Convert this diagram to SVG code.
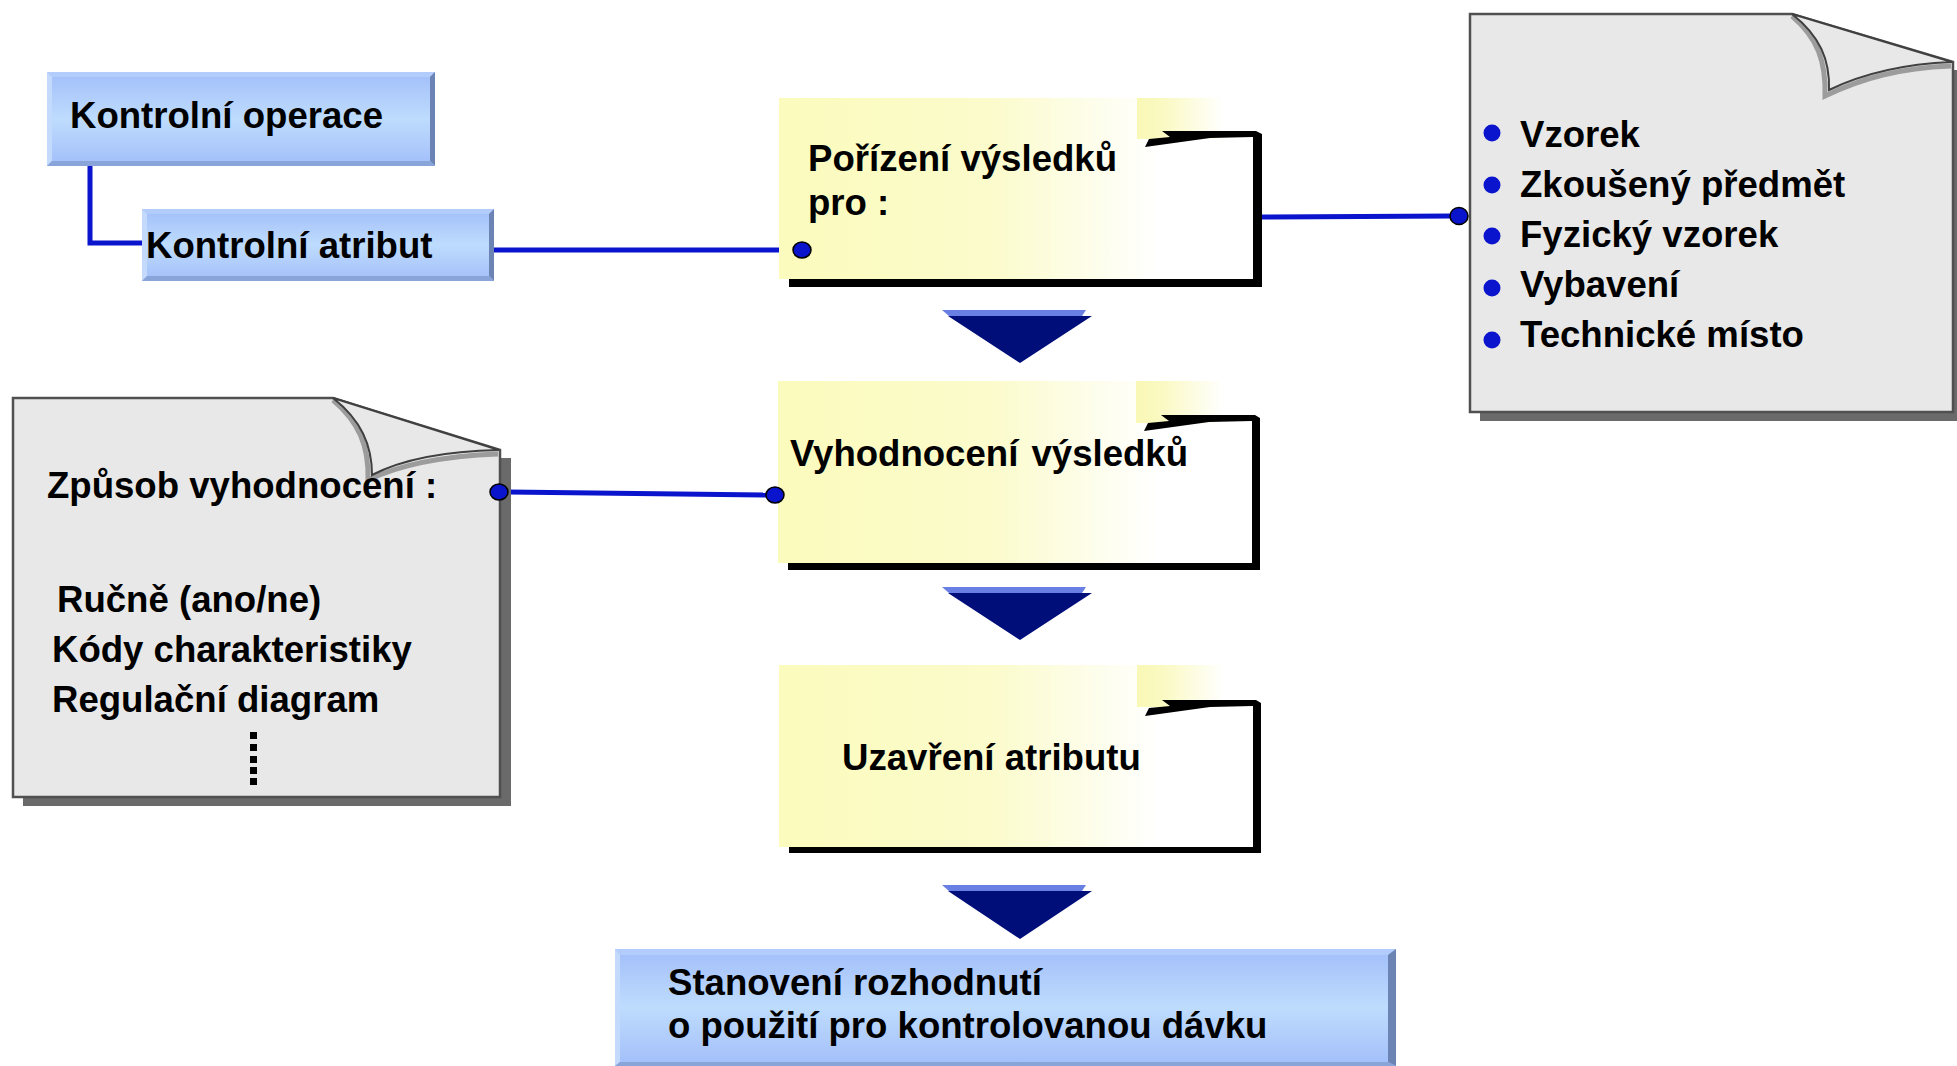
<svg xmlns="http://www.w3.org/2000/svg" width="1957" height="1066" viewBox="0 0 1957 1066">
<defs>
<linearGradient id="yel" x1="0" y1="0" x2="1" y2="0">
<stop offset="0" stop-color="#FBFBBD"/>
<stop offset="0.45" stop-color="#FBFBCC"/>
<stop offset="0.8" stop-color="#FFFFFF"/>
</linearGradient>
<linearGradient id="yel2" x1="0" y1="0" x2="1" y2="0">
<stop offset="0" stop-color="#F9F8B6"/>
<stop offset="0.2" stop-color="#FAF9C0"/>
<stop offset="0.75" stop-color="#FFFFFF"/>
</linearGradient>
<linearGradient id="blu" x1="0" y1="0" x2="0" y2="1">
<stop offset="0" stop-color="#A2BEFA"/>
<stop offset="0.5" stop-color="#BEDCFD"/>
<stop offset="1" stop-color="#A2BEFA"/>
</linearGradient>
</defs>
<style>
text{font-family:"Liberation Sans",Arial,sans-serif;font-weight:bold;font-size:36.6px;fill:#000}
.conn{stroke:#0A14CC;stroke-width:5;fill:none}
.dot{fill:#0A14CC;stroke:#000;stroke-width:1.5}
.bul{fill:#0A14CC}
.page{fill:#E8E8E8;stroke:#505050;stroke-width:2.5}
.shadow{fill:#6A6A6A}
.curlS{fill:none;stroke:#9C9C9C;stroke-width:5}
.curlL{fill:#E8E8E8;stroke:#404040;stroke-width:2}
.bmain{fill:url(#blu)}
.btop{fill:#B2CCFC}
.bleft{fill:#C4DAFC}
.bright{fill:#6C84B4}
.bbot{fill:#88A4D8}
.ymain{fill:url(#yel)}
.ycorner{fill:url(#yel2)}
.yshade{fill:#000}
.arL{fill:#6A7FE3}
.arD{fill:#000E7A}
</style>

<g id="connectors">
<polyline class="conn" points="90,166 90,243 142,243"/>
<line class="conn" x1="494" y1="250" x2="796" y2="250"/>
<line class="conn" x1="1261" y1="217" x2="1452" y2="216"/>
<line class="conn" x1="503" y1="492" x2="770" y2="495"/>
</g>

<g id="kontrolni-operace" transform="translate(47,72)">
<rect class="bmain" x="0" y="0" width="388" height="94"/>
<polygon class="btop" points="0,0 388,0 383,5 5,5"/>
<polygon class="bleft" points="0,0 5,5 5,89 0,94"/>
<polygon class="bright" points="388,0 388,94 383,89 383,5"/>
<polygon class="bbot" points="0,94 388,94 383,89 5,89"/>
<text x="23" y="56">Kontrolní operace</text>
</g>

<g id="kontrolni-atribut" transform="translate(142,209)">
<rect class="bmain" x="0" y="0" width="352" height="72"/>
<polygon class="btop" points="0,0 352,0 347,5 5,5"/>
<polygon class="bleft" points="0,0 5,5 5,67 0,72"/>
<polygon class="bright" points="352,0 352,72 347,67 347,5"/>
<polygon class="bbot" points="0,72 352,72 347,67 5,67"/>
<text x="4" y="49">Kontrolní atribut</text>
</g>

<g id="porizeni" transform="translate(779,98)">
<rect class="ymain" x="0" y="0" width="474" height="181"/>
<rect class="ycorner" x="358" y="0" width="116" height="41"/>
<path class="yshade" d="M383,33 L477,33 L483,36 L483,189 L10,189 L10,181 L474,181 L474,39 L431,40 L366,49 L370,41 L391,39 Z"/>
<text x="29" y="73">Pořízení výsledků</text>
<text x="29" y="117">pro :</text>
<ellipse class="dot" cx="23" cy="152" rx="9" ry="8"/>
</g>

<g id="vyhodnoceni" transform="translate(778,381)">
<rect class="ymain" x="0" y="0" width="474" height="182"/>
<rect class="ycorner" x="358" y="0" width="116" height="42"/>
<path class="yshade" d="M383,34 L477,34 L482,37 L482,189 L10,189 L10,182 L474,182 L474,40 L431,41 L366,50 L370,42 L391,40 Z"/>
<text x="12" y="85" word-spacing="3">Vyhodnocení výsledků</text>
<ellipse class="dot" cx="-3" cy="114" rx="9" ry="8"/>
</g>

<g id="uzavreni" transform="translate(779,665)">
<rect class="ymain" x="0" y="0" width="474" height="182"/>
<rect class="ycorner" x="358" y="0" width="116" height="42"/>
<path class="yshade" d="M383,35 L477,35 L482,38 L482,188 L10,188 L10,182 L474,182 L474,41 L431,42 L366,51 L370,43 L391,41 Z"/>
<text x="63" y="105">Uzavření atributu</text>
</g>

<g id="arrow1" transform="translate(0,310)">
<polygon class="arL" points="942,0 1086,0 1082,6 949,6"/>
<polygon class="arD" points="948,6 1092,6 1020,53"/>
</g>
<g id="arrow2" transform="translate(0,587)">
<polygon class="arL" points="942,0 1086,0 1082,6 949,6"/>
<polygon class="arD" points="948,6 1092,6 1020,53"/>
</g>
<g id="arrow3" transform="translate(0,885)">
<polygon class="arL" points="942,0 1086,0 1082,6 949,6"/>
<polygon class="arD" points="948,6 1092,6 1020,54"/>
</g>

<g id="stanoveni" transform="translate(615,949)">
<rect class="bmain" x="0" y="0" width="781" height="117"/>
<polygon class="btop" points="0,0 781,0 773,6 5,6"/>
<polygon class="bleft" points="0,0 5,6 5,113 0,117"/>
<polygon class="bright" points="781,0 781,117 773,113 773,6"/>
<polygon class="bbot" points="0,117 781,117 773,113 5,113"/>
<text x="53" y="46">Stanovení rozhodnutí</text>
<text x="53" y="89">o použití pro kontrolovanou dávku</text>
</g>

<g id="note-vzorky">
<polygon class="shadow" points="1480,412 1957,412 1957,421 1480,421"/>
<polygon class="shadow" points="1953,70 1957,70 1957,421 1953,421"/>
<path class="page" d="M1470,14 L1792,14 L1953,62 L1953,412 L1470,412 Z"/>
<path class="curlS" d="M1792,16 C1818,38 1826,62 1825,96 C1862,78 1900,68 1951,66"/>
<path class="curlL" d="M1792,14 C1820,36 1830,60 1829,90 C1862,74 1902,64 1952,62 Z"/>
<circle class="bul" cx="1492" cy="133" r="8.5"/>
<circle class="bul" cx="1492" cy="185" r="8.5"/>
<circle class="bul" cx="1492" cy="236" r="8.5"/>
<circle class="bul" cx="1492" cy="288" r="8.5"/>
<circle class="bul" cx="1492" cy="340" r="8.5"/>
<text x="1520" y="147">Vzorek</text>
<text x="1520" y="197">Zkoušený předmět</text>
<text x="1520" y="247">Fyzický vzorek</text>
<text x="1520" y="297">Vybavení</text>
<text x="1520" y="347">Technické místo</text>
<ellipse class="dot" cx="1459" cy="216" rx="9" ry="8.5"/>
</g>

<g id="note-zpusob">
<polygon class="shadow" points="23,797 511,797 511,806 23,806"/>
<polygon class="shadow" points="500,458 511,458 511,806 500,806"/>
<path class="page" d="M13,398 L333,398 L500,450 L500,797 L13,797 Z"/>
<path class="curlS" d="M333,400 C359,422 369,446 368,480 C403,463 446,456 498,454"/>
<path class="curlL" d="M333,398 C361,420 372,445 372,475 C405,458 448,451 499,450 Z"/>
<text x="47" y="498">Způsob vyhodnocení :</text>
<text x="57" y="612">Ručně (ano/ne)</text>
<text x="52" y="662">Kódy charakteristiky</text>
<text x="52" y="712">Regulační diagram</text>
<rect x="250" y="732" width="7" height="7"/>
<rect x="250" y="744" width="7" height="7"/>
<rect x="250" y="756" width="7" height="7"/>
<rect x="250" y="767" width="7" height="7"/>
<rect x="250" y="778" width="7" height="7"/>
<ellipse class="dot" cx="499" cy="492" rx="9" ry="8"/>
</g>
</svg>
